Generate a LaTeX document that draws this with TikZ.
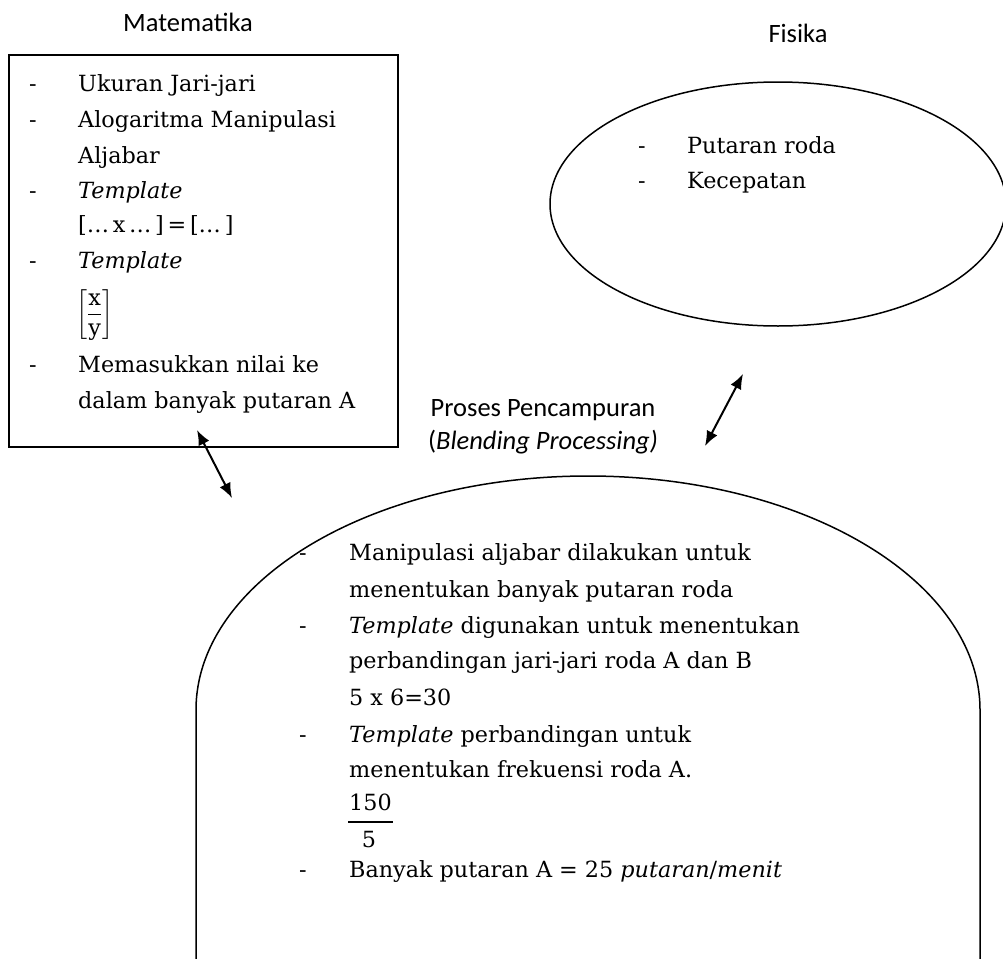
\RequirePackage{fix-cm}
\documentclass[tikz,border=0pt]{standalone}
\usepackage{amsmath}
\usepackage{fontspec}
\setmainfont{DejaVu Serif}
\newfontfamily\labelfont{Carlito}
\usetikzlibrary{shapes.geometric,arrows.meta}
\begin{document}
\begin{tikzpicture}[x=1pt,y=-1pt,
  body/.style={font=\fontsize{22.3}{36}\selectfont, inner sep=0pt, anchor=base west},
  dsh/.style={font=\fontsize{22.3}{36}\selectfont, inner sep=0pt, anchor=base},
  lbl/.style={font=\labelfont\fontsize{26.5}{32}\selectfont, inner sep=0pt, anchor=base},
  shapeline/.style={draw=black, line width=1.5pt},
  conn/.style={line width=2pt, >={Latex[length=15pt,width=12pt]}, <->}]
\useasboundingbox (0,0) rectangle (1003,958);
\fill[white] (0,0) rectangle (1003,958);

% titles
\node[lbl] (tmat) at (188,32) {Matematika};
\node[lbl] (tfis) at (798,42) {Fisika};
\node[lbl] (tpro) at (543,416) {Proses Pencampuran};
\node[lbl] (tble) at (543,449) {(\textit{Blending Processing)}};

% Matematika box
\node[shapeline, rectangle, minimum width=389pt, minimum height=392pt, inner sep=0pt] (mat) at (203.5,251) {};
\node[dsh] (md1) at (33,92) {-};
\node[body] (mt1) at (78,92) {Ukuran Jari-jari};
\node[dsh] (md2) at (33,127) {-};
\node[body] (mt2) at (78,127) {Alogaritma Manipulasi};
\node[body] (mt3) at (78,163) {Aljabar};
\node[dsh] (md4) at (33,198) {-};
\node[body] (mt4) at (78,198) {\textit{Template}};
\node[body] (mt5) at (78,232) {[…\,x\,…\,]\,=\,[…\,]};
\node[dsh] (md6) at (33,268) {-};
\node[body] (mt6) at (78,268) {\textit{Template}};
\node[body, anchor=west] (mt7) at (76,315) {$\left[\dfrac{\mathrm{x}}{\mathrm{y}}\right]$};
\node[dsh] (md8) at (33,372) {-};
\node[body] (mt8) at (78,372) {Memasukkan nilai ke};
\node[body] (mt9) at (78,408) {dalam banyak putaran A};

% Fisika ellipse
\node[shapeline, ellipse, minimum width=456pt, minimum height=244pt, inner sep=0pt] (fis) at (778,204) {};
\node[dsh] (fd1) at (642,153) {-};
\node[body] (ft1) at (687,153) {Putaran roda};
\node[dsh] (fd2) at (642,188) {-};
\node[body] (ft2) at (687,188) {Kecepatan};

% Blending arch
\coordinate (archL) at (196,710);
\coordinate (archT) at (588,476);
\coordinate (archR) at (980,710);
\draw[shapeline] (196,970) -- (archL)
  .. controls (196,580.8) and (371.5,476) .. (archT)
  .. controls (804.5,476) and (980,580.8) .. (archR) -- (980,970);
\node[dsh] (bd1) at (303,560) {-};
\node[body] (bt1) at (349,560) {Manipulasi aljabar dilakukan untuk};
\node[body] (bt2) at (349,597) {menentukan banyak putaran roda};
\node[dsh] (bd3) at (303,633) {-};
\node[body] (bt3) at (349,633) {\textit{Template} digunakan untuk menentukan};
\node[body] (bt4) at (349,668) {perbandingan jari-jari roda A dan B};
\node[body] (bt5) at (349,705) {5 x 6=30};
\node[dsh] (bd6) at (303,742) {-};
\node[body] (bt6) at (349,742) {\textit{Template} perbandingan untuk};
\node[body] (bt7) at (349,777) {menentukan frekuensi roda A.};
\node[body] (bt8) at (349,810) {150};
\draw[line width=2.5pt] (348,822) -- (393,822);
\node[dsh] (bt9) at (369,847) {5};
\node[dsh] (bd10) at (303,877) {-};
\node[body] (bt10) at (349,877) {Banyak putaran A = 25 \textit{putaran}/\textit{menit}};

% connectors
\coordinate (a1) at (197,430);
\coordinate (a2) at (232,498);
\draw[conn] (a1) -- (a2);
\coordinate (b1) at (743,374);
\coordinate (b2) at (705,446);
\draw[conn] (b1) -- (b2);
\end{tikzpicture}
\end{document}
